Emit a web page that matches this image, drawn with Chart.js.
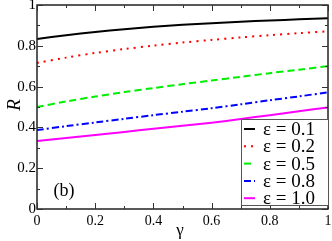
<!DOCTYPE html>
<html>
<head>
<meta charset="utf-8">
<script src="https://cdn.jsdelivr.net/npm/chart.js@4.4.1/dist/chart.umd.min.js"></script>
<style>
  html, body { margin: 0; padding: 0; background: #fff; }
  #wrap { width: 332px; height: 241px; }
</style>
</head>
<body>
<div id="wrap"><canvas id="chart" width="332" height="241"></canvas></div>
<script>
// gamma values along the x axis
const gammas = [0, 0.1, 0.2, 0.3, 0.4, 0.5, 0.6, 0.7, 0.8, 0.9, 1.0];

// R(gamma) for each epsilon
const rEps01 = [0.833, 0.852, 0.868, 0.881, 0.893, 0.903, 0.911, 0.918, 0.924, 0.930, 0.935];
const rEps02 = [0.716, 0.742, 0.765, 0.784, 0.801, 0.816, 0.829, 0.841, 0.852, 0.862, 0.871];
const rEps05 = [0.500, 0.527, 0.551, 0.573, 0.593, 0.612, 0.630, 0.648, 0.666, 0.683, 0.700];
const rEps08 = [0.387, 0.406, 0.424, 0.442, 0.460, 0.477, 0.494, 0.513, 0.533, 0.552, 0.572];
const rEps10 = [0.333, 0.348, 0.363, 0.378, 0.393, 0.408, 0.423, 0.441, 0.460, 0.479, 0.498];

const seriesLabels = ['ε = 0.1', 'ε = 0.2', 'ε = 0.5', 'ε = 0.8', 'ε = 1.0'];

const xTicks = [0, 0.2, 0.4, 0.6, 0.8, 1];
const xTickLabels = ['0', '0.2', '0.4', '0.6', '0.8', '1'];
const xMinor = [0.1, 0.3, 0.5, 0.7, 0.9];
const yTicks = [0, 0.2, 0.4, 0.6, 0.8, 1];
const yTickLabels = ['0', '0.2', '0.4', '0.6', '0.8', '1'];
const yMinor = [0.1, 0.3, 0.5, 0.7, 0.9];

const serif = '"Liberation Serif", "Times New Roman", serif';

function pts(ys) {
    return gammas.map((g, i) => ({ x: g, y: ys[i] }));
}

function line(label, ys, color, dash) {
    return {
        label: label,
        data: pts(ys),
        borderColor: color,
        backgroundColor: color,
        borderWidth: 2,
        borderDash: dash,
        pointRadius: 0,
        tension: 0.3,
        fill: false,
    };
}

// frame, inward ticks, legend box and labels
const decor = {
    id: 'decor',
    afterDraw(chart) {
        const ctx = chart.ctx;
        const a = chart.chartArea;
        const xs = chart.scales.x;
        const ys = chart.scales.y;
        ctx.save();
        ctx.strokeStyle = '#222';
        ctx.lineWidth = 1.5;
        ctx.strokeRect(a.left, a.top, a.right - a.left, a.bottom - a.top);

        ctx.lineWidth = 1;
        ctx.strokeStyle = '#333';
        const tick = (v, len, horiz) => {
            ctx.beginPath();
            if (horiz) {
                const p = Math.round(xs.getPixelForValue(v)) + 0.5;
                ctx.moveTo(p, a.bottom); ctx.lineTo(p, a.bottom - len);
                ctx.moveTo(p, a.top); ctx.lineTo(p, a.top + len);
            } else {
                const p = Math.round(ys.getPixelForValue(v)) + 0.5;
                ctx.moveTo(a.left, p); ctx.lineTo(a.left + len, p);
                ctx.moveTo(a.right, p); ctx.lineTo(a.right - len, p);
            }
            ctx.stroke();
        };
        xTicks.forEach((v) => tick(v, 6, true));
        xMinor.forEach((v) => tick(v, 3, true));
        yTicks.forEach((v) => tick(v, 6, false));
        yMinor.forEach((v) => tick(v, 3, false));

        // legend
        const lx = 241, lt = 119, lr = a.right, lb = 205;
        ctx.fillStyle = '#fff';
        ctx.fillRect(lx, lt, lr - lx, lb - lt);
        ctx.strokeStyle = '#555';
        ctx.lineWidth = 1;
        ctx.strokeRect(lx + 0.5, lt + 0.5, lr - lx, lb - lt);
        ctx.font = '19px ' + serif;
        ctx.textBaseline = 'middle';
        ctx.textAlign = 'left';
        chart.data.datasets.forEach((ds, i) => {
            const y = lt + 10 + i * 17.3;
            ctx.beginPath();
            ctx.setLineDash(ds.borderDash || []);
            ctx.strokeStyle = ds.borderColor;
            ctx.lineWidth = 2;
            ctx.moveTo(244, y); ctx.lineTo(255, y);
            ctx.stroke();
            ctx.setLineDash([]);
            ctx.fillStyle = '#000';
            ctx.fillText(ds.label, 263, y + 1);
        });

        // panel tag and axis titles
        ctx.fillStyle = '#000';
        ctx.textAlign = 'center';
        ctx.font = '18px ' + serif;
        ctx.fillText('(b)', 64, 191);
        ctx.font = '17px ' + serif;
        ctx.fillText('γ', 180, 231);
        ctx.save();
        ctx.translate(15, 105);
        ctx.rotate(-Math.PI / 2);
        ctx.font = 'italic 19px ' + serif;
        ctx.fillText('R', 0, 0);
        ctx.restore();
        ctx.restore();
    },
};

new Chart(document.getElementById('chart').getContext('2d'), {
    type: 'line',
    data: {
        datasets: [
            line(seriesLabels[0], rEps01, '#000000', []),
            line(seriesLabels[1], rEps02, '#ff0000', [2, 5]),
            line(seriesLabels[2], rEps05, '#00ee00', [7, 4]),
            line(seriesLabels[3], rEps08, '#0000ff', [7, 3, 2, 3]),
            line(seriesLabels[4], rEps10, '#ff00ff', []),
        ],
    },
    options: {
        responsive: false,
        animation: false,
        layout: { padding: { top: 5, right: 4, left: 0, bottom: 0 } },
        plugins: { legend: { display: false }, tooltip: { enabled: false } },
        scales: {
            x: {
                type: 'linear',
                min: 0,
                max: 1,
                grid: { display: false, drawTicks: false },
                border: { display: false },
                afterBuildTicks: (s) => { s.ticks = xTicks.map((v) => ({ value: v })); },
                afterFit: (s) => { s.height = 32; s.paddingLeft = 0; s.paddingRight = 0; },
                ticks: {
                    padding: 4,
                    maxRotation: 0,
                    color: '#000',
                    font: { family: serif, size: 14 },
                    callback: (v, i) => xTickLabels[i],
                },
            },
            y: {
                min: 0,
                max: 1,
                grid: { display: false, drawTicks: false },
                border: { display: false },
                afterBuildTicks: (s) => { s.ticks = yTicks.map((v) => ({ value: v })); },
                afterFit: (s) => { s.width = 37; s.paddingTop = 0; s.paddingBottom = 0; },
                ticks: {
                    padding: 1,
                    color: '#000',
                    font: { family: serif, size: 15 },
                    callback: (v, i) => yTickLabels[i],
                },
            },
        },
    },
    plugins: [decor],
});
</script>
</body>
</html>
